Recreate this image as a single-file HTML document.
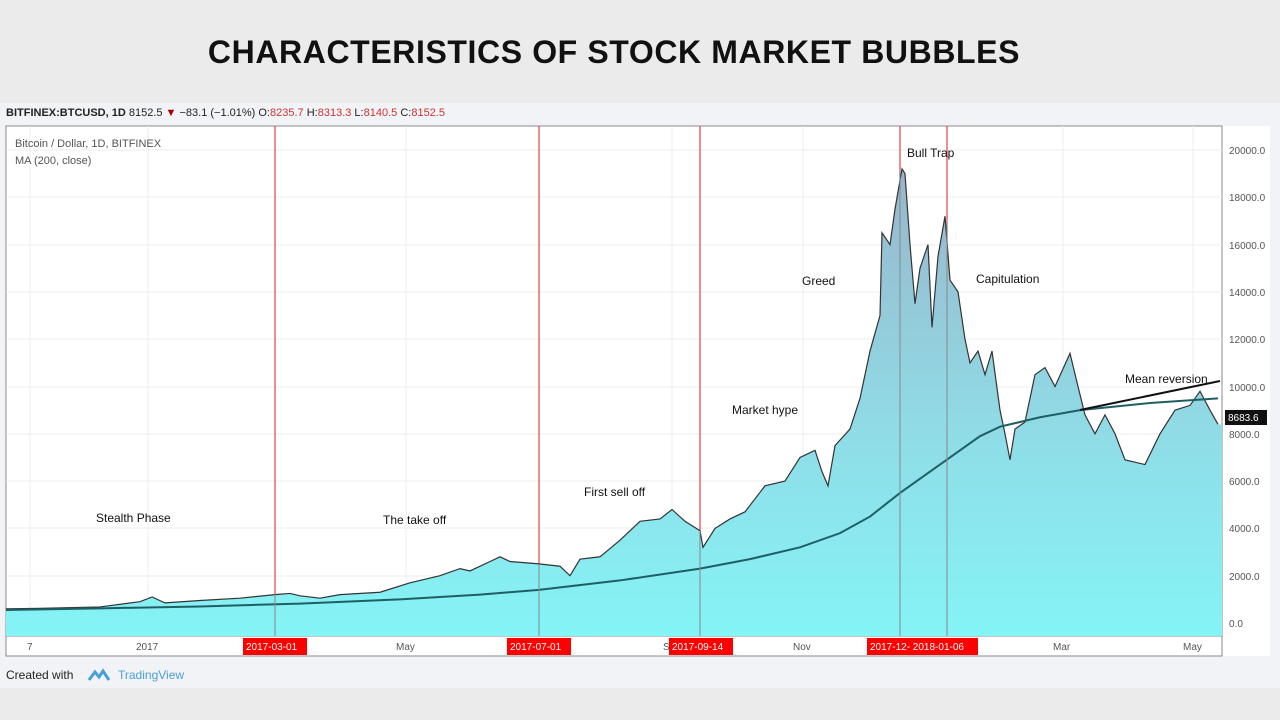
<!DOCTYPE html>
<html><head><meta charset="utf-8"><style>
body{margin:0;width:1280px;height:720px;background:#ebebeb;font-family:"Liberation Sans",sans-serif;overflow:hidden;position:relative}
.t{position:absolute;left:0;width:1228px;top:34px;text-align:center;font-weight:bold;font-size:32px;color:#111;letter-spacing:0.6px}
</style></head><body>
<div class="t">CHARACTERISTICS OF STOCK MARKET BUBBLES</div>
<svg style="position:absolute;left:0;top:0" width="1280" height="720" font-family="Liberation Sans, sans-serif">
<defs><linearGradient id="g" x1="0" y1="0" x2="0" y2="1">
<stop offset="0" stop-color="#84f4f6"/><stop offset="0.45" stop-color="#90dbe6"/><stop offset="1" stop-color="#98b6cb"/></linearGradient></defs>
<rect x="0" y="103" width="1280" height="585" fill="#f1f3f6"/>
<rect x="6" y="126" width="1264" height="530" fill="#fff"/>
<rect x="6" y="126" width="1216" height="530" fill="none" stroke="#888" stroke-width="1"/>
<line x1="1222" y1="126" x2="1222" y2="656" stroke="#888"/>
<line x1="6" y1="636" x2="1222" y2="636" stroke="#888"/>
<g stroke="#ececec">
<line x1="6" y1="150" x2="1222" y2="150"/><line x1="6" y1="197" x2="1222" y2="197"/><line x1="6" y1="245" x2="1222" y2="245"/><line x1="6" y1="292" x2="1222" y2="292"/><line x1="6" y1="339" x2="1222" y2="339"/><line x1="6" y1="387" x2="1222" y2="387"/><line x1="6" y1="434" x2="1222" y2="434"/><line x1="6" y1="481" x2="1222" y2="481"/><line x1="6" y1="528" x2="1222" y2="528"/><line x1="6" y1="576" x2="1222" y2="576"/><line x1="6" y1="623" x2="1222" y2="623"/>
<line x1="30" y1="126" x2="30" y2="636"/><line x1="148" y1="126" x2="148" y2="636"/><line x1="406" y1="126" x2="406" y2="636"/><line x1="672" y1="126" x2="672" y2="636"/><line x1="803" y1="126" x2="803" y2="636"/><line x1="1063" y1="126" x2="1063" y2="636"/><line x1="1193" y1="126" x2="1193" y2="636"/>
</g>
<g stroke="#e85050" stroke-width="1.3"><line x1="275" y1="126" x2="275" y2="636"/><line x1="539" y1="126" x2="539" y2="636"/><line x1="700" y1="126" x2="700" y2="636"/><line x1="900" y1="126" x2="900" y2="636"/><line x1="947" y1="126" x2="947" y2="636"/></g>
<g transform="translate(0,623) scale(1,-0.02365)">
<polygon fill="url(#g)" points="6,-550 6,600 40,620 100,680 140,900 152,1100 165,850 200,950 240,1050 275,1200 290,1250 300,1150 320,1050 340,1200 380,1300 410,1700 440,2000 460,2300 470,2200 490,2600 500,2800 510,2600 539,2500 560,2400 570,2000 580,2700 600,2800 620,3500 640,4300 660,4400 672,4800 685,4300 700,3900 703,3200 715,4000 730,4400 745,4700 765,5800 785,6000 800,7000 815,7300 822,6400 828,5800 835,7500 850,8200 860,9500 870,11500 880,13000 882,16500 890,16000 895,17500 902,19200 905,19000 910,16000 915,13500 920,15000 928,16000 932,12500 938,15500 945,17200 950,14500 958,14000 965,12000 970,11000 978,11500 985,10500 992,11500 1000,9000 1005,8000 1010,6900 1015,8200 1025,8500 1035,10500 1045,10800 1055,10000 1070,11400 1078,10000 1085,8800 1095,8000 1105,8800 1115,8000 1125,6900 1135,6800 1145,6700 1160,8000 1175,9000 1190,9200 1200,9800 1210,9000 1218,8400 1222,8400 1222,-550"/>
<polyline fill="none" stroke="#333" stroke-width="1.2" vector-effect="non-scaling-stroke" points="6,600 40,620 100,680 140,900 152,1100 165,850 200,950 240,1050 275,1200 290,1250 300,1150 320,1050 340,1200 380,1300 410,1700 440,2000 460,2300 470,2200 490,2600 500,2800 510,2600 539,2500 560,2400 570,2000 580,2700 600,2800 620,3500 640,4300 660,4400 672,4800 685,4300 700,3900 703,3200 715,4000 730,4400 745,4700 765,5800 785,6000 800,7000 815,7300 822,6400 828,5800 835,7500 850,8200 860,9500 870,11500 880,13000 882,16500 890,16000 895,17500 902,19200 905,19000 910,16000 915,13500 920,15000 928,16000 932,12500 938,15500 945,17200 950,14500 958,14000 965,12000 970,11000 978,11500 985,10500 992,11500 1000,9000 1005,8000 1010,6900 1015,8200 1025,8500 1035,10500 1045,10800 1055,10000 1070,11400 1078,10000 1085,8800 1095,8000 1105,8800 1115,8000 1125,6900 1135,6800 1145,6700 1160,8000 1175,9000 1190,9200 1200,9800 1210,9000 1218,8400"/>
<polyline fill="none" stroke="#1f5f63" stroke-width="2" vector-effect="non-scaling-stroke" points="6,550 100,620 200,700 300,820 400,1000 480,1200 539,1400 620,1800 700,2300 750,2700 800,3200 840,3800 870,4500 900,5500 950,7000 980,7900 1000,8300 1040,8700 1080,9000 1150,9300 1218,9500"/>
</g>
<g stroke="#888" stroke-width="1"><line x1="275" y1="594" x2="275" y2="636"/><line x1="539" y1="564" x2="539" y2="636"/><line x1="700" y1="531" x2="700" y2="636"/><line x1="900" y1="170" x2="900" y2="636"/><line x1="947" y1="220" x2="947" y2="636"/></g>
<line x1="1080" y1="410" x2="1220" y2="381" stroke="#111" stroke-width="2"/>
<g font-size="12" fill="#111">
<text x="96" y="522">Stealth Phase</text><text x="383" y="524">The take off</text><text x="584" y="496">First sell off</text><text x="732" y="414">Market hype</text><text x="802" y="285">Greed</text><text x="907" y="157">Bull Trap</text><text x="976" y="283">Capitulation</text><text x="1125" y="383">Mean reversion</text>
</g>
<g font-size="10" fill="#555">
<text x="1229" y="154">20000.0</text><text x="1229" y="201">18000.0</text><text x="1229" y="249">16000.0</text><text x="1229" y="296">14000.0</text><text x="1229" y="343">12000.0</text><text x="1229" y="391">10000.0</text><text x="1229" y="485">6000.0</text><text x="1229" y="532">4000.0</text><text x="1229" y="580">2000.0</text><text x="1229" y="627">0.0</text>
<text x="1229" y="438">8000.0</text>
<text x="27" y="650">7</text><text x="136" y="650">2017</text><text x="396" y="650">May</text><text x="793" y="650">Nov</text><text x="1053" y="650">Mar</text><text x="1183" y="650">May</text>
</g>
<rect x="1225" y="410" width="42" height="15" fill="#111"/><text x="1228" y="421" font-size="10" fill="#fff">8683.6</text>
<g font-size="10" fill="#fff">
<rect x="243" y="638" width="64" height="17" fill="#f00"/><text x="246" y="650">2017-03-01</text>
<rect x="507" y="638" width="64" height="17" fill="#f00"/><text x="510" y="650">2017-07-01</text>
<text x="663" y="650" fill="#555">S</text><rect x="669" y="638" width="64" height="17" fill="#f00"/><text x="672" y="650">2017-09-14</text>
<rect x="867" y="638" width="111" height="17" fill="#f00"/><text x="870" y="650">2017-12-  2018-01-06</text>
</g>
<g font-size="11" fill="#555"><text x="15" y="147">Bitcoin / Dollar, 1D, BITFINEX</text><text x="15" y="164">MA (200, close)</text></g>
<text x="6" y="116" font-size="11" fill="#222"><tspan font-weight="bold">BITFINEX:BTCUSD, 1D</tspan> 8152.5 <tspan fill="#a00">▼</tspan> −83.1 (−1.01%) O:<tspan fill="#c33">8235.7</tspan> H:<tspan fill="#c33">8313.3</tspan> L:<tspan fill="#c33">8140.5</tspan> C:<tspan fill="#c33">8152.5</tspan></text>
<text x="6" y="679" font-size="12" fill="#222">Created with</text>
<path d="M89,680 l6,-8 l4,5 l4,-6 l6,9" fill="none" stroke="#4a9fd8" stroke-width="3"/>
<text x="118" y="679" font-size="12" fill="#4a9fd8">TradingView</text>
</svg>
</body></html>
